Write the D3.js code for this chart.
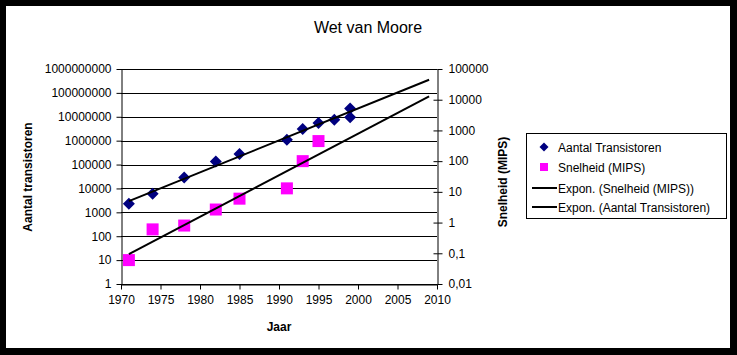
<!DOCTYPE html>
<html>
<head>
<meta charset="utf-8">
<script src="https://cdn.jsdelivr.net/npm/d3@7"></script>
<style>
  html, body { margin: 0; padding: 0; background: #000; }
  svg { display: block; }
  text { font-family: "Liberation Sans", Arial, sans-serif; fill: #000; }
</style>
</head>
<body>
<svg id="chart" width="737" height="355"></svg>
<script>
// ---- data ----
const title = "Wet van Moore";
const xTitle = "Jaar";
const yLeftTitle = "Aantal transistoren";
const yRightTitle = "Snelheid (MIPS)";

const transistorYears = [1971, 1974, 1978, 1982, 1985, 1991, 1993, 1995, 1997, 1999, 1999];
const transistorCounts = [2300, 6000, 29000, 134000, 275000, 1100000, 3100000, 5500000, 7500000, 22000000, 9500000];

const mipsYears = [1971, 1974, 1978, 1982, 1985, 1991, 1993, 1995];
const mipsValues = [0.06, 0.6, 0.8, 2.66, 6, 13, 100, 450];

const trendYears = [1971, 2009];

const xTicks = [1970, 1975, 1980, 1985, 1990, 1995, 2000, 2005, 2010];
const leftTicks = [1, 10, 100, 1000, 10000, 100000, 1000000, 10000000, 100000000, 1000000000];
const leftTickLabels = ["1", "10", "100", "1000", "10000", "100000", "1000000", "10000000", "100000000", "1000000000"];
const rightTicks = [0.01, 0.1, 1, 10, 100, 1000, 10000, 100000];
const rightTickLabels = ["0,01", "0,1", "1", "10", "100", "1000", "10000", "100000"];

const legendLabels = ["Aantal Transistoren", "Snelheid (MIPS)", "Expon. (Snelheid (MIPS))", "Expon. (Aantal Transistoren)"];

// ---- layout ----
const svg = d3.select("#chart");
svg.append("rect").attr("x", 6).attr("y", 6).attr("width", 724).attr("height", 342).attr("fill", "#fff");

const plot = { left: 121, right: 437, top: 69, bottom: 284 };
const x = d3.scaleLinear().domain([1970, 2010]).range([plot.left, plot.right]);
const yL = d3.scaleLog().domain([1, 1e9]).range([plot.bottom, plot.top]);
const yR = d3.scaleLog().domain([0.01, 1e5]).range([plot.bottom, plot.top]);

const font = "Liberation Sans, Arial, sans-serif";

// gridlines
svg.append("g").selectAll("line").data(leftTicks).join("line")
  .attr("x1", plot.left).attr("x2", plot.right)
  .attr("y1", d => Math.round(yL(d)) + 0.5).attr("y2", d => Math.round(yL(d)) + 0.5)
  .attr("stroke", "#000").attr("stroke-width", 1);

// axes
function styleAxis(g) {
  g.selectAll("path").attr("stroke", "#000");
  g.selectAll("line").attr("stroke", "#000");
  g.selectAll("text").attr("font-family", font).attr("font-size", 12).attr("fill", "#000");
}

svg.append("g").attr("transform", `translate(0,${plot.bottom + 0.5})`)
  .call(d3.axisBottom(x).tickValues(xTicks).tickFormat(d3.format("d")).tickSizeInner(5).tickSizeOuter(0).tickPadding(6))
  .call(styleAxis);

svg.append("g").attr("transform", `translate(${plot.left + 0.5},0)`)
  .call(d3.axisLeft(yL).tickValues(leftTicks).tickFormat((d, i) => leftTickLabels[i]).tickSizeInner(5).tickSizeOuter(0).tickPadding(5))
  .call(styleAxis);

const rAxis = svg.append("g").attr("transform", `translate(${plot.right + 0.5},0)`)
  .call(d3.axisRight(yR).tickValues(rightTicks).tickFormat((d, i) => rightTickLabels[i]).tickSizeInner(5).tickSizeOuter(0).tickPadding(6))
  .call(styleAxis);
// cross ticks (inner part) on the right axis
rAxis.selectAll(".tick").append("line").attr("x1", -4).attr("x2", 0).attr("stroke", "#000");

// regression (exponential trend, least squares on log)
function expTrend(xs, ys) {
  const n = xs.length;
  const lx = xs, ly = ys.map(v => Math.log(v));
  const mx = d3.mean(lx), my = d3.mean(ly);
  let sxy = 0, sxx = 0;
  for (let i = 0; i < n; i++) { sxy += (lx[i] - mx) * (ly[i] - my); sxx += (lx[i] - mx) ** 2; }
  const b = sxy / sxx, a = my - b * mx;
  return t => Math.exp(a + b * t);
}
const trendT = expTrend(transistorYears, transistorCounts);
const trendM = expTrend(mipsYears, mipsValues);

const lineL = d3.line().x(d => x(d)).y(d => yL(trendT(d)));
const lineR = d3.line().x(d => x(d)).y(d => yR(trendM(d)));

// points
const tPts = transistorYears.map((yr, i) => ({ yr, v: transistorCounts[i] }));
const mPts = mipsYears.map((yr, i) => ({ yr, v: mipsValues[i] }));

svg.append("g").selectAll("rect").data(mPts).join("rect")
  .attr("x", d => x(d.yr) - 6).attr("y", d => yR(d.v) - 6)
  .attr("width", 12).attr("height", 12).attr("fill", "#ff00ff");

svg.append("path").datum(trendYears).attr("d", lineR).attr("fill", "none").attr("stroke", "#000").attr("stroke-width", 2);

svg.append("g").selectAll("path").data(tPts).join("path")
  .attr("transform", d => `translate(${x(d.yr)},${yL(d.v)})`)
  .attr("d", "M0,-6L6,0L0,6L-6,0Z").attr("fill", "#000080");

svg.append("path").datum(trendYears).attr("d", lineL).attr("fill", "none").attr("stroke", "#000").attr("stroke-width", 2);

// titles
svg.append("text").attr("x", 368).attr("y", 33).attr("text-anchor", "middle")
  .attr("font-size", 16).text(title);
svg.append("text").attr("x", 279).attr("y", 331).attr("text-anchor", "middle")
  .attr("font-size", 12).attr("font-weight", "bold").text(xTitle);
svg.append("text").attr("transform", "translate(32,177) rotate(-90)").attr("text-anchor", "middle")
  .attr("font-size", 12).attr("font-weight", "bold").text(yLeftTitle);
svg.append("text").attr("transform", "translate(507,182) rotate(-90)").attr("text-anchor", "middle")
  .attr("font-size", 12).attr("font-weight", "bold").text(yRightTitle);

// legend
const lg = svg.append("g");
lg.append("rect").attr("x", 526.5).attr("y", 133.5).attr("width", 200).attr("height", 85)
  .attr("fill", "#fff").attr("stroke", "#000");
const rowsY = [147, 167, 188, 207];
lg.append("path").attr("d", `M544,${rowsY[0] - 4.5}L548.5,${rowsY[0]}L544,${rowsY[0] + 4.5}L539.5,${rowsY[0]}Z`).attr("fill", "#000080");
lg.append("rect").attr("x", 540).attr("y", rowsY[1] - 4).attr("width", 8).attr("height", 8).attr("fill", "#ff00ff");
[2, 3].forEach(i => lg.append("line").attr("x1", 532).attr("x2", 557).attr("y1", rowsY[i]).attr("y2", rowsY[i])
  .attr("stroke", "#000").attr("stroke-width", 2));
lg.selectAll("text.l").data(legendLabels).join("text").attr("class", "l")
  .attr("x", 558).attr("y", (d, i) => rowsY[i] + 4.5).attr("font-size", 12).text(d => d);
</script>
</body>
</html>
